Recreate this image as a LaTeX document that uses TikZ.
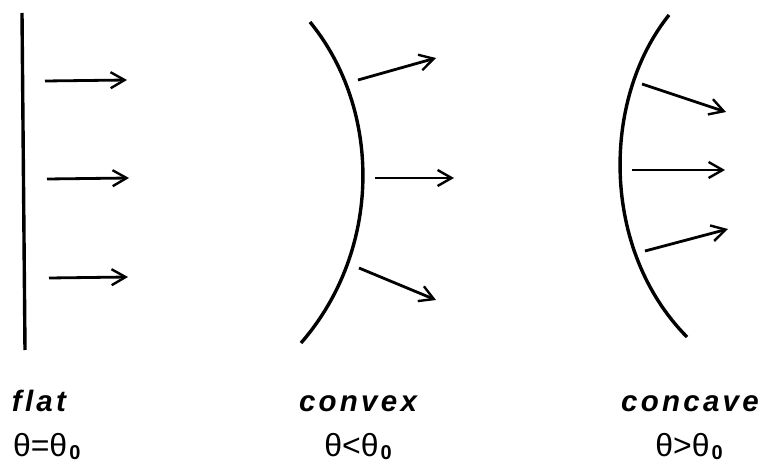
\documentclass[tikz,border=0pt]{standalone}
\usepackage{fontspec}
\usetikzlibrary{arrows.meta}
\newfontfamily\lblfont[LetterSpace=11]{Liberation Sans}
\newfontfamily\thfont{Liberation Sans}
\newcommand{\wordlbl}[1]{{\lblfont\bfseries\itshape\fontsize{29.5}{31}\selectfont #1}}
\newcommand{\thsub}{\kern2pt\raisebox{-3.5pt}{\thfont\bfseries\fontsize{20}{22}\selectfont 0}}
\newcommand{\thlbl}[1]{{\thfont\fontsize{32}{34}\selectfont #1}}
\begin{document}
\begin{tikzpicture}[x=1pt,y=-1pt,
  surf/.style={line width=3.4pt},
  ray/.style={line width=2.8pt,-{Straight Barb[length=14pt,width=16pt,line width=2.4pt]}},
  txt/.style={inner sep=0pt,outer sep=0pt}]
\useasboundingbox (0,0) rectangle (760,465);
% flat
\coordinate (f1) at (22,13);
\coordinate (f2) at (25,350);
\draw[surf] (f1) -- (f2);
\coordinate (fa1) at (45,81);  \coordinate (fb1) at (127,80);
\coordinate (fa2) at (47,179); \coordinate (fb2) at (129,178);
\coordinate (fa3) at (49,278); \coordinate (fb3) at (128,277);
\draw[ray] (fa1) -- (fb1);
\draw[ray] (fa2) -- (fb2);
\draw[ray] (fa3) -- (fb3);
% convex
\coordinate (c1) at (310,22);
\coordinate (c2) at (301,343);
\draw[surf] (c1) .. controls (382,110) and (382,250) .. (c2);
\coordinate (ca1) at (358,80);  \coordinate (cb1) at (436,58);
\coordinate (ca2) at (375,178); \coordinate (cb2) at (454,178);
\coordinate (ca3) at (359,268); \coordinate (cb3) at (436,300);
\draw[ray] (ca1) -- (cb1);
\draw[ray] (ca2) -- (cb2);
\draw[ray] (ca3) -- (cb3);
% concave
\coordinate (k1) at (669,15);
\coordinate (k2) at (687,337);
\draw[surf] (k1) .. controls (601,100) and (601,250) .. (k2);
\coordinate (ka1) at (642,84);  \coordinate (kb1) at (726,112);
\coordinate (ka2) at (632,170); \coordinate (kb2) at (725,170);
\coordinate (ka3) at (645,251); \coordinate (kb3) at (728,229);
\draw[ray] (ka1) -- (kb1);
\draw[ray] (ka2) -- (kb2);
\draw[ray] (ka3) -- (kb3);
% labels
\node[txt,anchor=base west] (lflat) at (12,411) {\wordlbl{flat}};
\node[txt,anchor=base] (lconvex) at (358,411) {\wordlbl{convex}};
\node[txt,anchor=base] (lconcave) at (690,411) {\wordlbl{concave}};
\node[txt,anchor=base west] (tflat) at (13,456) {\thlbl{θ=θ\thsub}};
\node[txt,anchor=base] (tconvex) at (358,456) {\thlbl{θ<θ\thsub}};
\node[txt,anchor=base] (tconcave) at (689,456) {\thlbl{θ>θ\thsub}};
\end{tikzpicture}
\end{document}
